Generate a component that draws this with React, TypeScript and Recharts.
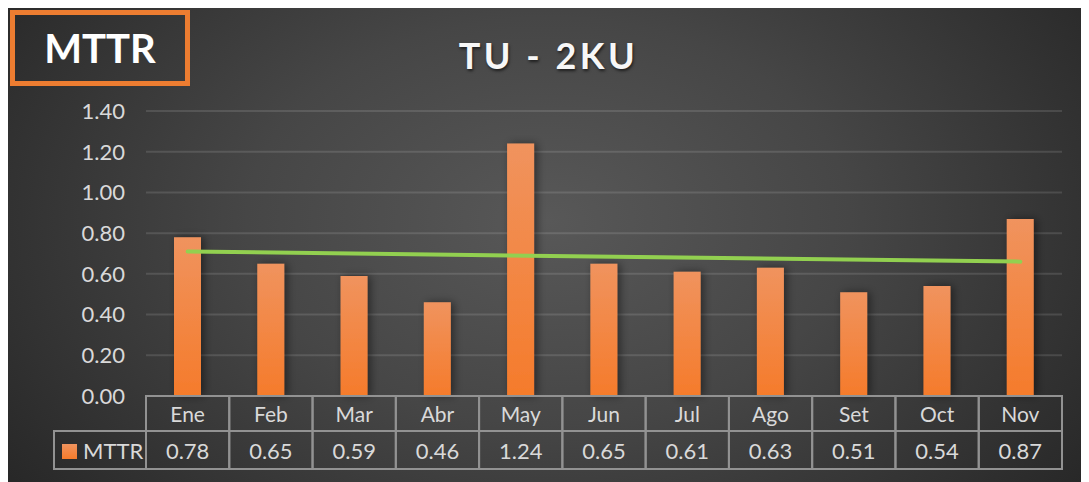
import React from 'react';
import { ComposedChart, Bar, XAxis, YAxis, CartesianGrid, ReferenceLine } from 'recharts';

const months = ['Ene', 'Feb', 'Mar', 'Abr', 'May', 'Jun', 'Jul', 'Ago', 'Set', 'Oct', 'Nov'];
const mttr = [0.78, 0.65, 0.59, 0.46, 1.24, 0.65, 0.61, 0.63, 0.51, 0.54, 0.87];
const yTicks = [0, 0.2, 0.4, 0.6, 0.8, 1.0, 1.2, 1.4];
// linear trend (start / end)
const trendEnds = [0.71, 0.66];

const data = months.map((m, i) => ({ month: m, mttr: mttr[i] }));

const W = 1081;
const H = 475;
const PLOT_LEFT = 138;
const PLOT_RIGHT = 1054;
const COL = (PLOT_RIGHT - PLOT_LEFT) / months.length;
const ROW1 = 35;
const ROW2 = 38;
const BORDER = '#929292';
const TXT = '#d9d9d9';
const FONT = 'Lato, "Open Sans", sans-serif';

function TableTick(props: any) {
  const { x, y, index } = props;
  const left = x - COL / 2;
  return (
    <g>
      <rect x={left} y={y} width={COL} height={ROW1} fill="none" stroke={BORDER} strokeWidth={2} />
      <rect x={left} y={y + ROW1} width={COL} height={ROW2} fill="none" stroke={BORDER} strokeWidth={2} />
      <text x={x} y={y + ROW1 / 2 + 3} textAnchor="middle" dominantBaseline="middle" fill={TXT} fontSize={21} fontFamily={FONT}>
        {months[index]}
      </text>
      <text x={x} y={y + ROW1 + ROW2 / 2 + 3} textAnchor="middle" dominantBaseline="middle" fill={TXT} fontSize={22} fontFamily={FONT}>
        {mttr[index].toFixed(2)}
      </text>
      {index === 0 && (
        <g>
          <rect x={46} y={y + ROW1} width={left - 46} height={ROW2} fill="none" stroke={BORDER} strokeWidth={2} />
          <rect x={54} y={y + ROW1 + 13} width={15} height={15} fill="url(#barFill)" />
          <text x={75} y={y + ROW1 + ROW2 / 2 + 3} dominantBaseline="middle" fill={TXT} fontSize={22} fontFamily={FONT}>
            MTTR
          </text>
        </g>
      )}
    </g>
  );
}

export default function App() {
  return (
    <div
      style={{
        position: 'relative',
        width: W,
        height: H,
        marginTop: -1,
        background: 'radial-gradient(ellipse 62% 95% at 50% 45%, #585858 0%, #464646 45%, #272727 100%)',
        fontFamily: FONT,
      }}
    >
      <div
        style={{
          position: 'absolute',
          left: 2,
          top: 3,
          width: 170,
          height: 66,
          border: '5px solid #ed7d31',
          color: '#ffffff',
          fontWeight: 700,
          fontSize: 40,
          display: 'flex',
          alignItems: 'center',
          justifyContent: 'center',
        }}
      >
        MTTR
      </div>
      <div
        style={{
          position: 'absolute',
          left: 0,
          width: W,
          top: 25,
          textAlign: 'center',
          color: '#f7f7f7',
          fontWeight: 700,
          fontSize: 36,
          letterSpacing: 3.5,
          textShadow: '1px 2px 3px rgba(0,0,0,0.6)',
          lineHeight: '46px',
        }}
      >
        TU - 2KU
      </div>
      <ComposedChart
        width={W}
        height={H}
        data={data}
        margin={{ top: 104, right: W - PLOT_RIGHT, left: 0, bottom: 13 }}
        style={{ position: 'absolute', left: 0, top: 0 }}
      >
        <defs>
          <linearGradient id="barFill" x1="0" y1="0" x2="0" y2="1">
            <stop offset="0%" stopColor="#f0935e" />
            <stop offset="100%" stopColor="#f57b2b" />
          </linearGradient>
          <filter id="barShadow" x="-50%" y="-10%" width="200%" height="120%">
            <feDropShadow dx={3} dy={0} stdDeviation={4} floodColor="#000" floodOpacity={0.45} />
          </filter>
        </defs>
        <CartesianGrid horizontal vertical={false} stroke="#ffffff" strokeOpacity={0.12} strokeWidth={2} />
        <YAxis
          type="number"
          domain={[0, 1.4]}
          ticks={yTicks}
          width={PLOT_LEFT}
          axisLine={false}
          tickLine={false}
          tickMargin={15}
          tickFormatter={(v: number) => v.toFixed(2)}
          tick={{ fill: TXT, fontSize: 22, fontFamily: FONT }}
        />
        <XAxis
          dataKey="month"
          height={73}
          axisLine={false}
          tickLine={false}
          tickSize={0}
          tickMargin={0}
          interval={0}
          tick={<TableTick />}
        />
        <Bar dataKey="mttr" barSize={27} fill="url(#barFill)" filter="url(#barShadow)" isAnimationActive={false} />
        <ReferenceLine
          segment={[
            { x: months[0], y: trendEnds[0] },
            { x: months[months.length - 1], y: trendEnds[1] },
          ]}
          stroke="#92d050"
          strokeWidth={4}
          strokeLinecap="round"
        />
      </ComposedChart>
    </div>
  );
}
